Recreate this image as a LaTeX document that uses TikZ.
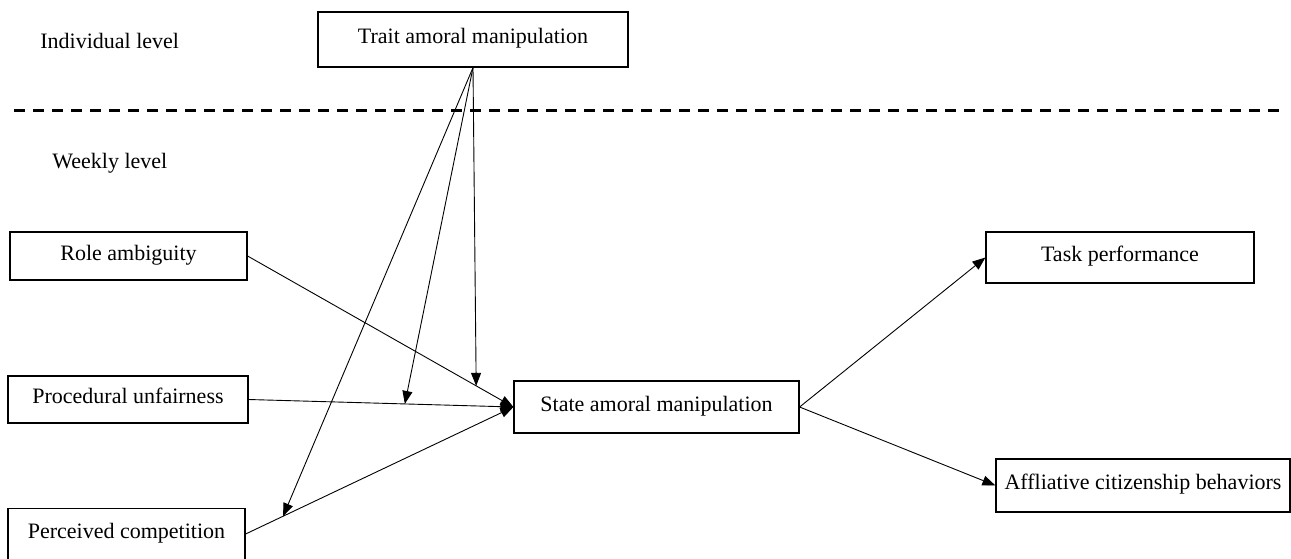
\documentclass[tikz,border=0pt]{standalone}
\usepackage{fontspec}
\setmainfont{Liberation Serif}
\usepackage{tikz}
\usetikzlibrary{arrows.meta,positioning,calc}

\begin{document}
\begin{tikzpicture}[x=0.5pt,y=-0.5pt,
    var/.style={draw,line width=0.6pt,rectangle,inner sep=0pt,
      font=\fontsize{11}{13}\selectfont,text height=11pt,text depth=7pt},
    path/.style={-{Triangle[length=6.5pt,width=5pt]},line width=0.45pt},
    lvl/.style={font=\fontsize{11}{13}\selectfont,anchor=base west,inner sep=0pt}]
      \useasboundingbox (0,0) rectangle (1291,558);
      % levels
      \node[lvl](indiv) at (40,48){Individual level};
      \node[lvl](week) at (52,168){Weekly level};
      \draw[line width=1.5pt,dash pattern=on 5.5pt off 4pt](14,110) -- (1280,110);
      % variables
      \node[var,minimum width=155pt,minimum height=27.5pt](trait) at (473,39.5){Trait amoral manipulation};
      \node[var,minimum width=118.5pt,minimum height=24pt](role) at (128.5,256){Role ambiguity};
      \node[var,minimum width=120pt,minimum height=23.5pt](proc) at (128,399.5){Procedural unfairness};
      \node[var,minimum width=118.5pt,minimum height=25.5pt](comp) at (126.5,534){Perceived competition};
      \node[var,minimum width=142.5pt,minimum height=26pt](state) at (656.5,407){State amoral manipulation};
      \node[var,minimum width=134pt,minimum height=25.5pt](task) at (1120,257.5){Task performance};
      \node[var,minimum width=147pt,minimum height=26.5pt](affl) at (1143,485.5){Affliative citizenship behaviors};
      % main paths
      \foreach \src in {role,proc,comp}{\draw[path](\src.east) -- (state.west);}
      \foreach \dst in {task,affl}{\draw[path](state.east) -- (\dst.west);}
      % moderation
      \coordinate (mrole) at ($(role.east)!0.86!(state.west)$);
      \coordinate (mproc) at ($(proc.east)!0.59!(state.west)$);
      \coordinate (mcomp) at ($(comp.east)!0.14!(state.west)$);
      \foreach \m in {mrole,mproc,mcomp}{\draw[path](trait.south) -- (\m);}
\end{tikzpicture}
\end{document}
